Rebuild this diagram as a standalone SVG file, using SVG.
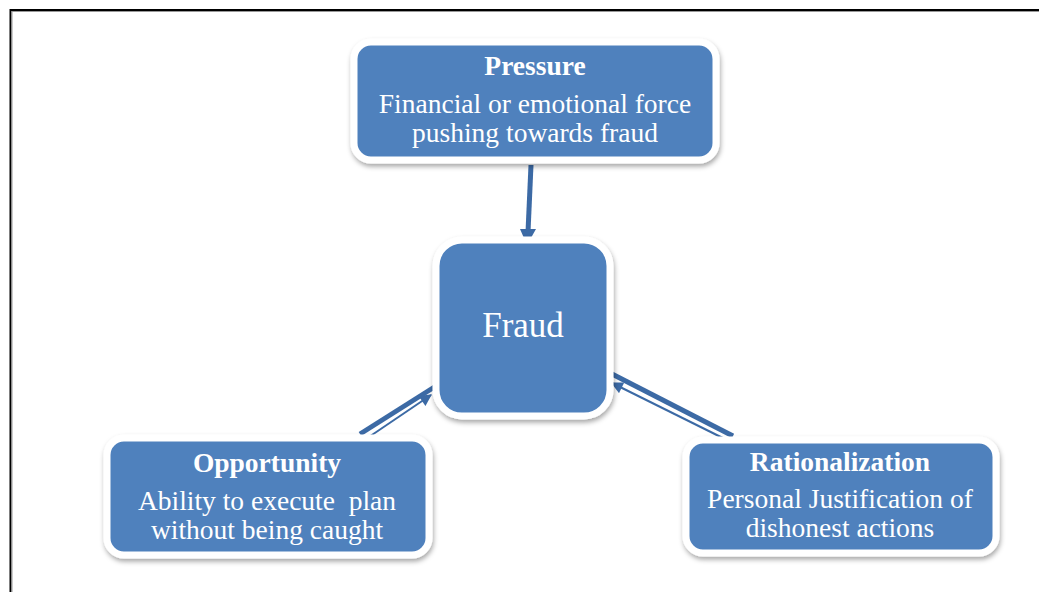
<svg xmlns="http://www.w3.org/2000/svg" width="1039" height="592" viewBox="0 0 1039 592">
<style>
.box{fill:#4F81BD;stroke:#ffffff;stroke-width:7;filter:url(#sh)}
.t{font-family:"Liberation Serif",serif;fill:#ffffff;text-anchor:middle;font-size:27.5px}
.b{font-weight:bold}
.thick{stroke:#3C6AA5;stroke-width:5;fill:none}
.thin{stroke:#3C6AA5;stroke-width:2;fill:none}
</style>
<defs>
<filter id="sh" x="-10%" y="-10%" width="120%" height="130%">
<feDropShadow dx="1" dy="3" stdDeviation="2.5" flood-color="#000" flood-opacity="0.35"/>
</filter>
<marker id="ah2" viewBox="0 0 10 10" refX="9" refY="5" markerWidth="13" markerHeight="12" markerUnits="userSpaceOnUse" orient="auto">
<path d="M0,0 L10,5 L0,10 z" fill="#3C6AA5"/>
</marker>
</defs>
<rect width="1039" height="592" fill="#ffffff"/>
<path d="M10.5,592 L10.5,10 L1039,10" fill="none" stroke="#000" stroke-width="2"/>
<path d="M12,592 L12,11.5 L1039,11.5" fill="none" stroke="#999" stroke-width="1"/>
<g id="connectors">
<line class="thick" x1="531" y1="165" x2="528" y2="232"/>
<path d="M520,229 L536,229 L527,245 z" fill="#3C6AA5"/>
<line class="thick" x1="360" y1="434" x2="436" y2="386"/>
<line class="thin" x1="363" y1="441" x2="431" y2="395" marker-end="url(#ah2)"/>
<line class="thick" x1="612" y1="374" x2="733" y2="436"/>
<line class="thin" x1="747" y1="450" x2="612" y2="383" marker-end="url(#ah2)"/>
</g>
<g id="pressure">
<rect class="box" x="354" y="42" width="362" height="118" rx="17"/>
<text class="t b" x="535" y="75">Pressure</text>
<text class="t" x="535" y="113">Financial or emotional force</text>
<text class="t" x="535" y="142">pushing towards fraud</text>
</g>
<g id="fraud">
<rect class="box" x="436" y="240" width="174" height="176" rx="26"/>
<text class="t" x="523" y="337" style="font-size:35px">Fraud</text>
</g>
<g id="opportunity">
<rect class="box" x="107" y="438" width="322" height="117" rx="17"/>
<text class="t b" x="267" y="472">Opportunity</text>
<text class="t" x="267" y="510" xml:space="preserve">Ability to execute  plan</text>
<text class="t" x="267" y="539">without being caught</text>
</g>
<g id="rationalization">
<rect class="box" x="686" y="440" width="310" height="113" rx="17"/>
<text class="t b" x="840" y="471">Rationalization</text>
<text class="t" x="840" y="508">Personal Justification of</text>
<text class="t" x="840" y="537">dishonest actions</text>
</g>
</svg>
